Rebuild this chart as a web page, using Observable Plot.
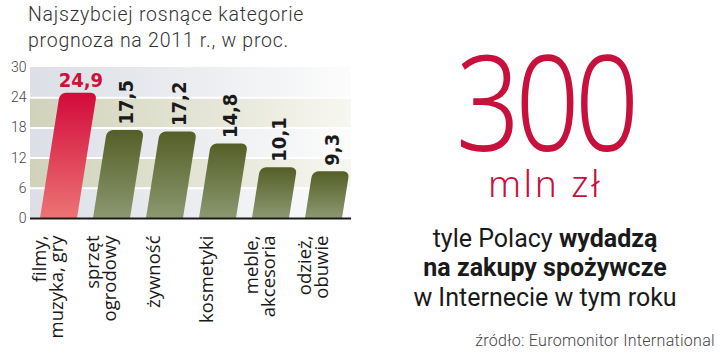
<!DOCTYPE html>
<html>
<head>
<meta charset="utf-8">
<script src="https://cdn.jsdelivr.net/npm/d3@7"></script>
<script src="https://cdn.jsdelivr.net/npm/@observablehq/plot@0.6"></script>
<style>
  html, body { margin: 0; padding: 0; background: #fff; }
  #page { position: relative; width: 720px; height: 359px; overflow: hidden; }
  #title { position: absolute; left: 28px; top: 1.5px; font-family: Roboto, sans-serif; font-weight: 300; font-size: 19.5px; letter-spacing: 0.75px; line-height: 26px; color: #333; white-space: nowrap; }
  #chart { position: absolute; left: 0; top: 55px; width: 360px; height: 300px; }
  #big { position: absolute; left: 400px; width: 290px; top: 50px; text-align: center; font-family: "Noto Sans", sans-serif; font-weight: 300; font-size: 133px; line-height: 100px; height: 100px; color: #c8103c; }
  #big span { display: inline-block; transform: scaleX(0.85); letter-spacing: -6px; line-height: 100px; }
  #unit { position: absolute; left: 400px; width: 290px; top: 169px; text-align: center; font-family: "Noto Sans", sans-serif; font-weight: 300; font-size: 37px; line-height: 28px; height: 28px; color: #c8103c; letter-spacing: 2.5px; }
  #note { position: absolute; left: 400px; width: 290px; top: 223.7px; text-align: center; font-family: Roboto, sans-serif; font-size: 25px; line-height: 29.5px; color: #1a1a1a; white-space: nowrap; }
  #note b { font-weight: 700; }
  #source { position: absolute; right: 5px; top: 332px; font-family: Roboto, sans-serif; font-weight: 300; font-size: 16px; letter-spacing: 0.3px; line-height: 18px; color: #444; white-space: nowrap; }
</style>
</head>
<body>
<div id="page">
  <div id="title">Najszybciej rosnące kategorie<br>prognoza na 2011 r., w proc.</div>
  <div id="chart"></div>
  <div id="big"><span>300</span></div>
  <div id="unit">mln zł</div>
  <div id="note">tyle Polacy <b>wydadzą</b><br><b>na zakupy spożywcze</b><br>w Internecie w tym roku</div>
  <div id="source">źródło: Euromonitor International</div>
</div>
<script>
// ---- data ----
const categories = ["filmy,\nmuzyka, gry", "sprzęt\nogrodowy", "żywność", "kosmetyki", "meble,\nakcesoria", "odzież,\nobuwie"];
const values = [24.9, 17.5, 17.2, 14.8, 10.1, 9.3];
const valueLabels = ["24,9", "17,5", "17,2", "14,8", "10,1", "9,3"];
const yTicks = [0, 6, 12, 18, 24, 30];
const greyBands = [[0, 6], [12, 18], [24, 30]];
const beigeBands = [[6, 12], [18, 24]];
const gridLines = [6, 12, 18, 24];

const rows = categories.map((c, i) => ({cat: c, value: values[i], label: valueLabels[i], highlight: i === 0}));
const leadRows = rows.filter(d => d.highlight);
const otherRows = rows.filter(d => !d.highlight);

const chart = Plot.plot({
  width: 360,
  height: 300,
  marginTop: 12,
  marginBottom: 137,
  marginLeft: 30,
  marginRight: 9,
  x: {domain: categories, paddingInner: 0.31, paddingOuter: 0.14, axis: null},
  y: {domain: [0, 30], ticks: yTicks, tickSize: 0, tickPadding: 4, label: null},
  style: {fontFamily: "Roboto, sans-serif", fontSize: "14px", fontWeight: 300, color: "#444", background: "transparent", overflow: "visible"},
  marks: [
    Plot.rect(greyBands, {y1: d => d[0], y2: d => d[1], fill: "url(#bandGrey)"}),
    Plot.rect(beigeBands, {y1: d => d[0], y2: d => d[1], fill: "url(#bandBeige)"}),
    Plot.ruleY(gridLines, {stroke: "#ffffff", strokeWidth: 2}),
    Plot.barY(leadRows, {x: "cat", y: "value", fill: "url(#barRed)", ry1: 6}),
    Plot.barY(otherRows, {x: "cat", y: "value", fill: "url(#barGreen)", ry1: 6}),
    Plot.ruleY([0], {stroke: "#1a1a1a", strokeWidth: 2}),
    Plot.text(leadRows, {x: "cat", y: "value", text: "label", dy: -13, fill: "#cf1038", fontSize: 20, fontWeight: "bold", fontFamily: "DejaVu Sans Condensed"}),
    Plot.text(otherRows, {x: "cat", y: "value", text: "label", rotate: -90, textAnchor: "start", dy: -6, fill: "#1a1a1a", fontSize: 20, fontWeight: "bold", fontFamily: "DejaVu Sans Condensed"}),
    Plot.text(rows, {x: "cat", frameAnchor: "bottom", text: "cat", rotate: -90, textAnchor: "end", lineAnchor: "middle", lineHeight: 0.9, dy: 17, dx: -10, fill: "#1a1a1a", fontSize: 18.5, fontWeight: 400, fontFamily: "Open Sans"})
  ]
});

// gradients
const NS = "http://www.w3.org/2000/svg";
const svgEl = chart.tagName.toLowerCase() === "svg" ? chart : chart.querySelector("svg");
const defs = document.createElementNS(NS, "defs");
function grad(id, horizontal, stops) {
  const g = document.createElementNS(NS, "linearGradient");
  g.setAttribute("id", id);
  g.setAttribute("x1", "0"); g.setAttribute("y1", "0");
  g.setAttribute("x2", horizontal ? "1" : "0"); g.setAttribute("y2", horizontal ? "0" : "1");
  for (const [o, c] of stops) {
    const s = document.createElementNS(NS, "stop");
    s.setAttribute("offset", o); s.setAttribute("stop-color", c);
    g.appendChild(s);
  }
  defs.appendChild(g);
}
grad("bandGrey", true, [[0, "#dcdfe6"], [0.55, "#eceef1"], [1, "#fcfcfc"]]);
grad("bandBeige", true, [[0, "#d0d2ba"], [0.55, "#e4e5d6"], [1, "#f7f7f1"]]);
grad("barRed", false, [[0, "#d20a3b"], [1, "#ec7474"]]);
grad("barGreen", false, [[0, "#545f27"], [1, "#8c9870"]]);
svgEl.insertBefore(defs, svgEl.firstChild);

// slanted bars (skew about the baseline)
const y0 = chart.scale("y").apply(0);
const skew = `translate(0,${y0}) skewX(-9) translate(0,${-y0})`;
svgEl.querySelectorAll('g[aria-label="bar"]').forEach(g => {
  g.setAttribute("transform", (skew + " " + (g.getAttribute("transform") || "")).trim());
});
const textGroups = svgEl.querySelectorAll('g[aria-label="text"]');
[textGroups[0], textGroups[1]].forEach(g => {
  if (!g) return;
  g.setAttribute("transform", (skew + " " + (g.getAttribute("transform") || "")).trim());
  g.querySelectorAll("text").forEach(t => {
    let tr = t.getAttribute("transform") || "";
    if (/translate\(/.test(tr)) {
      tr = tr.replace(/(translate\([^)]*\))/, "$1 skewX(9)");
    } else {
      const x = t.getAttribute("x") || 0, y = t.getAttribute("y") || 0;
      t.removeAttribute("x"); t.removeAttribute("y");
      tr = `translate(${x},${y}) skewX(9) ` + tr;
    }
    t.setAttribute("transform", tr.trim());
  });
});

document.getElementById("chart").appendChild(chart);
</script>
</body>
</html>
